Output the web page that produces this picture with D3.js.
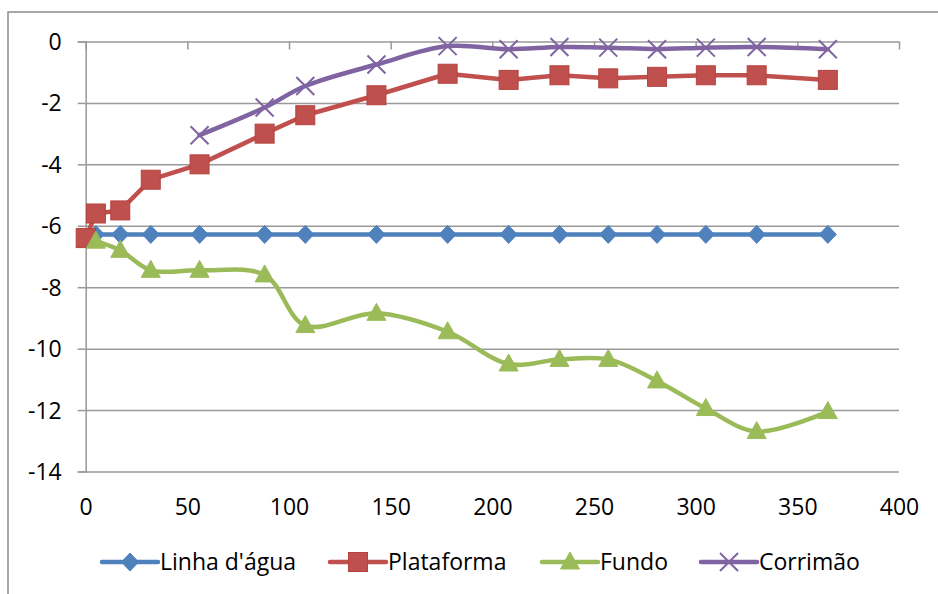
<!DOCTYPE html>
<html>
<head>
<meta charset="utf-8">
<script src="https://cdn.jsdelivr.net/npm/d3@7"></script>
<style>
  html, body { margin: 0; padding: 0; background: #fff; }
  svg { display: block; }
  text { font-family: "Open Sans", "Noto Sans", sans-serif; fill: #000; }
</style>
</head>
<body>
<svg id="chart" width="938" height="594"></svg>
<script>
// Station positions along the section (m)
const xLinha = [5, 17, 32, 56, 88, 108, 143, 178, 208, 233, 257, 281, 305, 330, 365];
const yLinha = [-6.28, -6.28, -6.28, -6.28, -6.28, -6.28, -6.28, -6.28, -6.28, -6.28, -6.28, -6.28, -6.28, -6.28, -6.28];

const xPlataforma = [0, 5, 17, 32, 56, 88, 108, 143, 178, 208, 233, 257, 281, 305, 330, 365];
const yPlataforma = [-6.4, -5.6, -5.5, -4.5, -4.0, -3.0, -2.4, -1.75, -1.05, -1.25, -1.1, -1.2, -1.15, -1.1, -1.1, -1.25];

const xFundo = [5, 17, 32, 56, 88, 108, 143, 178, 208, 233, 257, 281, 305, 330, 365];
const yFundo = [-6.5, -6.8, -7.45, -7.45, -7.6, -9.25, -8.85, -9.45, -10.5, -10.35, -10.35, -11.05, -11.95, -12.7, -12.05];

const xCorrimao = [56, 88, 108, 143, 178, 208, 233, 257, 281, 305, 330, 365];
const yCorrimao = [-3.05, -2.15, -1.45, -0.75, -0.15, -0.25, -0.18, -0.2, -0.25, -0.2, -0.18, -0.25];

const seriesNames = ["Linha d'água", "Plataforma", "Fundo", "Corrimão"];
const xTicks = [0, 50, 100, 150, 200, 250, 300, 350, 400];
const yTicks = [0, -2, -4, -6, -8, -10, -12, -14];

const series = [
  { name: seriesNames[0], xs: xLinha, ys: yLinha, color: "#4F81BD", marker: "diamond", smooth: false },
  { name: seriesNames[1], xs: xPlataforma, ys: yPlataforma, color: "#C0504D", marker: "square", smooth: false },
  { name: seriesNames[2], xs: xFundo, ys: yFundo, color: "#9BBB59", marker: "triangle", smooth: true },
  { name: seriesNames[3], xs: xCorrimao, ys: yCorrimao, color: "#8064A2", marker: "cross", smooth: true }
];

const svg = d3.select("#chart");
const gridColor = "#999999";
const fontSize = "23px";

// Chart frame
svg.append("rect")
  .attr("x", 8).attr("y", 12)
  .attr("width", 960).attr("height", 620)
  .attr("fill", "none").attr("stroke", "#8c8c8c").attr("stroke-width", 1.5);

const x = d3.scaleLinear().domain([0, 400]).range([85.7, 899]);
const y = d3.scaleLinear().domain([0, -14]).range([41.5, 471.5]);

// Horizontal gridlines with their outward ticks
const yAxis = d3.axisLeft(y).tickValues(yTicks).tickSize(8).tickFormat(d => String(d));
const yG = svg.append("g").attr("transform", `translate(${x(0)},0)`).call(yAxis);
yG.select(".domain").attr("stroke", gridColor).attr("stroke-width", 1.5);
yG.selectAll(".tick line").attr("stroke", gridColor).attr("stroke-width", 1.5);
yG.selectAll(".tick").append("line")
  .attr("x1", 0).attr("x2", x(400) - x(0))
  .attr("stroke", gridColor).attr("stroke-width", 1.5);
yG.selectAll(".tick text")
  .attr("x", -24).attr("dy", "0.35em")
  .style("font-size", fontSize).attr("fill", "#000");

// Horizontal axis runs along y = 0; its labels sit below the plot
const xAxis = d3.axisBottom(x).tickValues(xTicks).tickSize(8).tickFormat(d => String(d));
const xG = svg.append("g").attr("transform", `translate(0,${y(0)})`).call(xAxis);
xG.select(".domain").remove();
xG.selectAll(".tick line").attr("stroke", gridColor).attr("stroke-width", 1.5);
xG.selectAll(".tick text")
  .attr("y", y(-14) - y(0) + 35).attr("dy", "0.35em")
  .style("font-size", fontSize).attr("fill", "#000");

// Marker shapes
function drawMarker(g, type, color, cx, cy) {
  if (type === "diamond") {
    g.append("path")
      .attr("d", `M${cx},${cy - 9}L${cx + 8.5},${cy}L${cx},${cy + 9}L${cx - 8.5},${cy}Z`)
      .attr("fill", color).attr("stroke", color).attr("stroke-width", 1);
  } else if (type === "square") {
    g.append("rect")
      .attr("x", cx - 9.5).attr("y", cy - 9.5).attr("width", 19).attr("height", 19)
      .attr("fill", color).attr("stroke", "#b4433f").attr("stroke-width", 1);
  } else if (type === "triangle") {
    g.append("path")
      .attr("d", `M${cx},${cy - 10}L${cx + 9.5},${cy + 7}L${cx - 9.5},${cy + 7}Z`)
      .attr("fill", color).attr("stroke", color).attr("stroke-width", 1);
  } else if (type === "cross") {
    g.append("path")
      .attr("d", `M${cx - 9},${cy - 9}L${cx + 9},${cy + 9}M${cx - 9},${cy + 9}L${cx + 9},${cy - 9}`)
      .attr("fill", "none").attr("stroke", color).attr("stroke-width", 2);
  }
}

// Series lines and markers
series.forEach(s => {
  const pts = s.xs.map((v, i) => [v, s.ys[i]]);
  const line = d3.line()
    .x(d => x(d[0])).y(d => y(d[1]))
    .curve(s.smooth ? d3.curveCatmullRom.alpha(0.5) : d3.curveLinear);
  const g = svg.append("g");
  g.append("path")
    .attr("d", line(pts))
    .attr("fill", "none").attr("stroke", s.color)
    .attr("stroke-width", 4.5).attr("stroke-linejoin", "round").attr("stroke-linecap", "round");
  pts.forEach(p => drawMarker(g, s.marker, s.color, x(p[0]), y(p[1])));
});

// Legend
const legendY = 562;
const legendX = [102, 330, 542, 701];
series.forEach((s, i) => {
  const g = svg.append("g");
  const x0 = legendX[i];
  g.append("line")
    .attr("x1", x0).attr("x2", x0 + 56)
    .attr("y1", legendY).attr("y2", legendY)
    .attr("stroke", s.color).attr("stroke-width", 4.5).attr("stroke-linecap", "round");
  drawMarker(g, s.marker, s.color, x0 + 28, legendY);
  g.append("text")
    .attr("x", x0 + 58).attr("y", legendY).attr("dy", "0.35em")
    .style("font-size", fontSize)
    .text(s.name);
});
</script>
</body>
</html>
